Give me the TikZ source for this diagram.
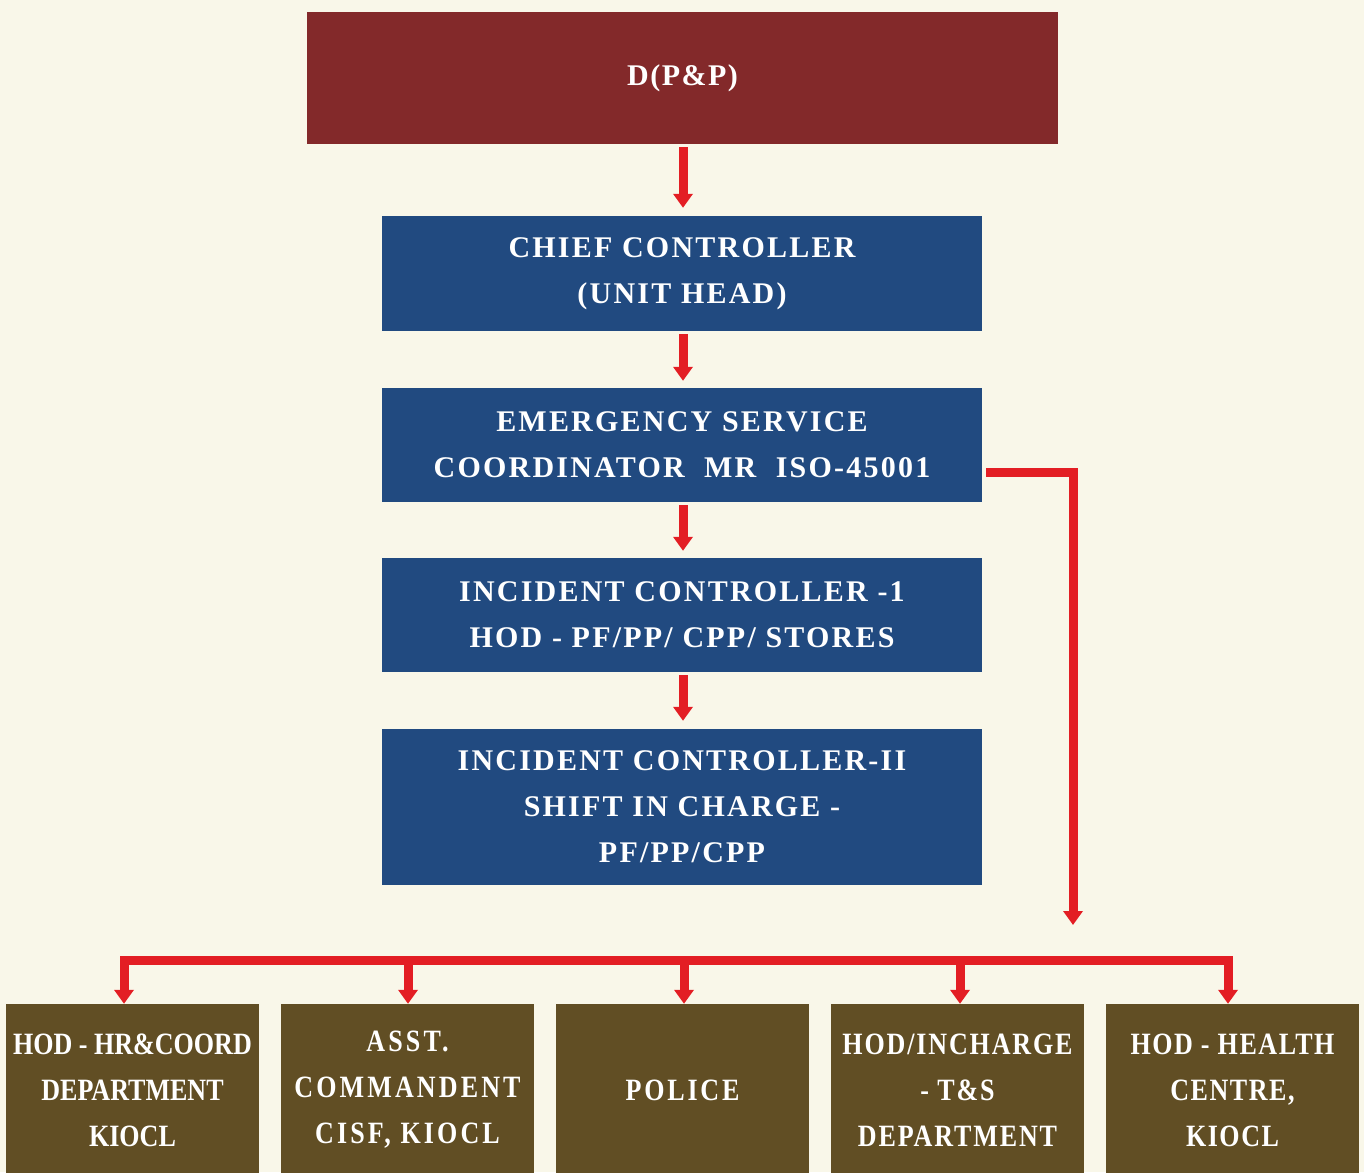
\documentclass[tikz,border=0pt]{standalone}
\usepackage{fontspec}
\setmainfont{Liberation Serif}
\newfontfamily\spacedfont{Liberation Serif}[LetterSpace=7.4]
\newfontfamily\headfont{Liberation Serif}[LetterSpace=5]
\newfontfamily\condfont{Liberation Serif}[FakeStretch=0.84]
\usetikzlibrary{arrows.meta,calc}
\definecolor{bgcream}{HTML}{F9F7E9}
\definecolor{topred}{HTML}{83292A}
\definecolor{navy}{HTML}{214A80}
\definecolor{olive}{HTML}{614E24}
\definecolor{linkred}{HTML}{E31E24}
\tikzset{
  headbox/.style={fill=topred, text=white, inner sep=0pt, minimum width=751pt, minimum height=132pt,
    align=center, font=\headfont\bfseries\fontsize{30}{46}\selectfont},
  rolebox/.style={fill=navy, text=white, inner sep=0pt, minimum width=600pt,
    align=center, font=\spacedfont\bfseries\fontsize{30}{46}\selectfont},
  unitbox/.style={fill=olive, text=white, inner sep=0pt, minimum width=253pt, minimum height=172pt,
    align=center, font=\condfont\bfseries\fontsize{31}{46}\selectfont\addfontfeature{LetterSpace=#1}},
  unitbox/.default=0,
  link/.style={draw=linkred, line width=9pt, line join=miter},
  arr/.style={link, -{Triangle[width=19pt,length=14pt]}},
}
\begin{document}
\begin{tikzpicture}[x=1pt,y=-1pt]
  \fill[bgcream] (0,0) rectangle (1364,1172);
  \useasboundingbox (0,0) rectangle (1364,1172);

  % chain of command
  \node[headbox] (dpp) at (682.5,78) {D(P\&P)};
  \node[rolebox, minimum height=115pt] (chief) at (682,273.5) {CHIEF CONTROLLER\\(UNIT HEAD)};
  \node[rolebox, minimum height=114pt] (esc) at (682,445) {EMERGENCY SERVICE\\COORDINATOR\ \ MR\ \ ISO-45001};
  \node[rolebox, minimum height=114pt] (ic1) at (682,615) {INCIDENT CONTROLLER -1\\HOD - PF/PP/ CPP/ STORES};
  \node[rolebox, minimum height=156pt] (ic2) at (682,807) {INCIDENT CONTROLLER-II\\SHIFT IN CHARGE -\\PF/PP/CPP};

  % supporting units (boxes run off the lower edge)
  \node[unitbox=0] (u1) at (132.5,1090) {HOD - HR\&COORD\\DEPARTMENT\\KIOCL};
  \node[unitbox=10] (u2) at (407.5,1090) {ASST.\\COMMANDENT\\CISF, KIOCL};
  \node[unitbox=9] (u3) at (682.5,1090) {POLICE};
  \node[unitbox=6] (u4) at (957.5,1090) {HOD/INCHARGE\\- T\&S\\DEPARTMENT};
  \node[unitbox=5] (u5) at (1232.5,1090) {HOD - HEALTH\\CENTRE,\\KIOCL};

  % vertical arrows
  \draw[arr, shorten <=3pt, shorten >=8pt] ([xshift=0.5pt]dpp.south) -- ([xshift=1pt]chief.north);
  \draw[arr, shorten <=3pt, shorten >=7pt] ([xshift=1pt]chief.south) -- ([xshift=1pt]esc.north);
  \draw[arr, shorten <=3pt, shorten >=7pt] ([xshift=1pt]esc.south) -- ([xshift=1pt]ic1.north);
  \draw[arr, shorten <=3pt, shorten >=8pt] ([xshift=1pt]ic1.south) -- ([xshift=1pt]ic2.north);

  % branch from the coordinator
  \coordinate (drop) at (1073,925);
  \draw[arr] ($(esc.east)+(4,27)$) -| (drop);

  % distribution bus to the units
  \coordinate (hub) at (684,960);
  \draw[arr] (hub) -| ([xshift=-8.5pt]u1.north);
  \draw[arr] (hub) -| ([xshift=0.5pt]u2.north);
  \draw[arr] (hub) -- ([xshift=1.5pt]u3.north);
  \draw[arr] (hub) -| ([xshift=2.5pt]u4.north);
  \draw[arr] (hub) -| ([xshift=-4.5pt]u5.north);
\end{tikzpicture}
\end{document}
